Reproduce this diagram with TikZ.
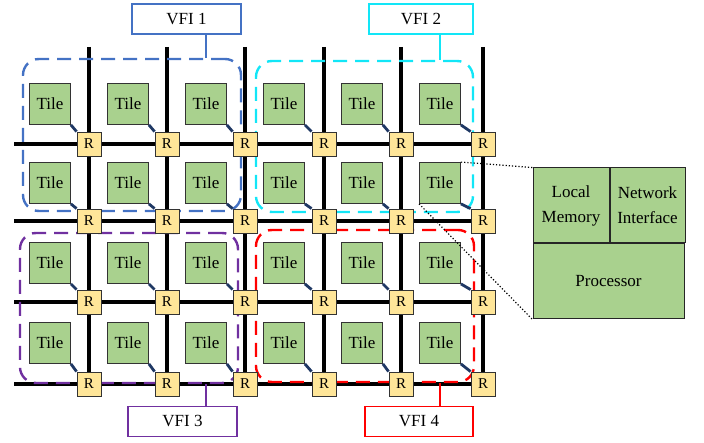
\documentclass[tikz,border=0pt]{standalone}
\usepackage{fontspec}
\setmainfont{Liberation Serif}
\usetikzlibrary{positioning}

\definecolor{tilegreen}{HTML}{A9D18E}
\definecolor{routeryellow}{HTML}{FFE699}
\definecolor{linknavy}{HTML}{1F3864}
\definecolor{vfiblue}{HTML}{4472C4}
\definecolor{vficyan}{HTML}{12E6F7}
\definecolor{vfipurple}{HTML}{7030A0}
\definecolor{vfired}{HTML}{FF0000}

\pgfdeclarelayer{grid}
\pgfdeclarelayer{vfi}
\pgfsetlayers{grid,vfi,main}

\begin{document}
\begin{tikzpicture}[
  x=1pt, y=-1pt,
  tile/.style={draw=black!80, fill=tilegreen, line width=0.8pt, minimum size=41pt,
               inner sep=0pt, font=\fontsize{17}{19}\selectfont},
  router/.style={draw=black!80, fill=routeryellow, line width=0.8pt, minimum size=24pt,
                 inner sep=0pt, font=\fontsize{15}{17}\selectfont},
  bus/.style={line width=4.2pt, black},
  tlink/.style={line width=2.8pt, linknavy},
  region/.style={draw=#1, dash pattern=on 14pt off 8pt, line width=2.4pt,
                 rounded corners=16pt, inner sep=0pt},
  vfilbl/.style={draw=#1, line width=1.5pt, fill=white, minimum height=30pt,
                 inner sep=0pt, font=\fontsize{17}{19}\selectfont},
  stem/.style={line width=2.4pt, #1},
  part/.style={draw=black!85, fill=tilegreen, line width=1pt, inner sep=0pt,
               align=center, font=\fontsize{17}{25}\selectfont},
  zoomln/.style={dotted, line width=1.2pt, black},
]
\useasboundingbox (0,0) rectangle (704,443);

% ---- tiles and routers ----
\foreach \x/\tx [count=\i] in {89/50,167/128,245/206,324/284,401/362,483/440}{
  \foreach \y/\ty [count=\j] in {144/104,221/183,302/263,384/343}{
    \node[tile] (t-\i-\j) at (\tx,\ty) {Tile};
    \node[router] (r-\i-\j) at (\x,\y) {R};
    \draw[tlink] (t-\i-\j.south east) -- (r-\i-\j.north west);
  }
  \coordinate (n-\i) at (\x,47);
}
\foreach \y [count=\j] in {144,221,302,384}
  \coordinate (w-\j) at (14,\y);

% ---- mesh links ----
\begin{pgfonlayer}{grid}
\foreach \j in {1,...,4}
  \draw[bus] (w-\j) -- (r-6-\j.center);
\foreach \i in {1,...,6}
  \draw[bus] (n-\i) -- (r-\i-4.center);
\end{pgfonlayer}

% ---- voltage/frequency islands ----
\begin{pgfonlayer}{vfi}
\node[region=vfiblue, minimum width=218pt, minimum height=152pt] (reg1) at (132,135) {};
\node[region=vficyan, minimum width=217pt, minimum height=151pt] (reg2) at (364.5,136.5) {};
\node[region=vfipurple, minimum width=218pt, minimum height=150pt] (reg3) at (129,308) {};
\node[region=vfired, minimum width=218pt, minimum height=152pt] (reg4) at (365,306) {};
\end{pgfonlayer}

\node[vfilbl=vfiblue, minimum width=109pt] (lbl1) at (186.5,19) {VFI 1};
\node[vfilbl=vficyan, minimum width=104pt] (lbl2) at (421,19) {VFI 2};
\node[vfilbl=vfipurple, minimum width=109pt] (lbl3) at (182.5,421.5) {VFI 3};
\node[vfilbl=vfired, minimum width=108pt] (lbl4) at (419,421.5) {VFI 4};

\draw[stem=vfiblue] (t-3-1 |- lbl1.south) -- (t-3-1 |- reg1.north);
\draw[stem=vficyan] (t-6-1 |- lbl2.south) -- (t-6-1 |- reg2.north);
\draw[stem=vfipurple] (t-3-4 |- lbl3.north) -- (t-3-4 |- reg3.south);
\draw[stem=vfired] (t-6-4 |- lbl4.north) -- (t-6-4 |- reg4.south);

% ---- inside of one tile ----
\node[part, minimum width=76pt, minimum height=75pt] (mem) at (571,205.5) {Local\\Memory};
\node[part, minimum width=75pt, minimum height=75pt, right=0pt of mem] (nic) {Network\\Interface};
\node[part, minimum width=151pt, minimum height=75pt, anchor=north west] (proc) at (mem.south west) {Processor};

\draw[zoomln] (t-6-2.north east) -- (mem.north west);
\draw[zoomln] (t-6-2.south west) -- (proc.south west);
\end{tikzpicture}
\end{document}
